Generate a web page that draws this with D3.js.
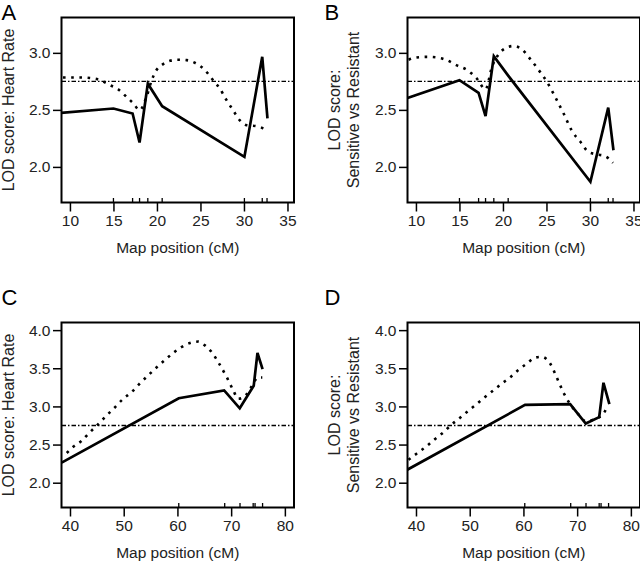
<!DOCTYPE html>
<html><head><meta charset="utf-8">
<script src="https://cdn.jsdelivr.net/npm/d3@7"></script>
<style>
body{margin:0;background:#fff}
svg{display:block;font-family:"Liberation Sans",Arial,Helvetica,sans-serif}
</style></head>
<body><svg id="c" width="640" height="562"></svg>
<script>
// ---- data ----
const panelLetters = ["A", "B", "C", "D"];
const yTitleHR = ["LOD score: Heart Rate"];
const yTitleSR = ["LOD score:", "Sensitive vs Resistant"];
const xTitle = "Map position (cM)";
const xTicksAB = [10, 15, 20, 25, 30, 35];
const xTicksCD = [40, 50, 60, 70, 80];
const yTicksAB = [2.0, 2.5, 3.0];
const yTicksCD = [2.0, 2.5, 3.0, 3.5, 4.0];
const threshold = 2.75;
const markersAB = [15, 17.2, 18.0, 18.95, 20.6, 30.05, 32.1, 32.65];
const markersCD = [60.25, 68.8, 71.65, 74.1, 74.45, 75.85];

const solidAx = [8.97, 15, 17.2, 18.0, 18.95, 20.6, 30.05, 32.1, 32.7];
const solidAy = [2.474, 2.512, 2.468, 2.214, 2.73, 2.532, 2.088, 2.965, 2.425];
const dotAx = [9.2, 11.15, 13.1, 14.6, 15.55, 16.5, 17.3, 18.0, 18.8, 19.4, 19.95, 20.5, 21.5, 22.4, 23.4, 24.5, 25.5, 26.45, 27.2, 28.0, 28.75, 29.5, 30.3, 31.4, 32.2, 32.65];
const dotAy = [2.784, 2.784, 2.77, 2.717, 2.68, 2.614, 2.556, 2.497, 2.614, 2.76, 2.85, 2.89, 2.93, 2.94, 2.936, 2.907, 2.85, 2.76, 2.69, 2.585, 2.497, 2.41, 2.366, 2.357, 2.337, 2.307];

const solidBx = [9.03, 15, 17.2, 18.0, 18.95, 20.6, 30.05, 32.1, 32.7];
const solidBy = [2.605, 2.76, 2.65, 2.445, 2.97, 2.80, 1.87, 2.52, 2.146];
const dotBx = [9.15, 10.1, 11.26, 12.4, 13.56, 14.7, 15.86, 17.0, 18.0, 18.74, 19.3, 20.26, 21.2, 22.2, 23.1, 24.1, 25.06, 26.0, 26.97, 27.9, 28.9, 29.84, 30.8, 31.76, 32.64];
const dotBy = [2.94, 2.96, 2.965, 2.96, 2.936, 2.89, 2.85, 2.775, 2.68, 2.877, 2.965, 3.04, 3.06, 3.03, 2.95, 2.85, 2.745, 2.614, 2.468, 2.32, 2.22, 2.13, 2.11, 2.094, 2.035];

const solidCx = [38.45, 60.25, 68.7, 71.6, 74.2, 74.9, 75.85];
const solidCy = [2.263, 3.107, 3.21, 2.975, 3.27, 3.70, 3.49];
const dotCx = [39.4, 40.6, 42.2, 43.4, 45.0, 46.8, 48.4, 49.9, 51.5, 53.0, 54.6, 56.1, 57.7, 59.2, 60.8, 62.3, 63.9, 65.1, 66.4, 67.6, 69.2, 70.4, 71.3, 72.9, 73.8, 75.0, 75.8];
const dotCy = [2.39, 2.47, 2.55, 2.64, 2.75, 2.88, 2.99, 3.10, 3.19, 3.30, 3.41, 3.51, 3.61, 3.70, 3.78, 3.83, 3.85, 3.80, 3.71, 3.58, 3.38, 3.21, 3.10, 3.16, 3.26, 3.38, 3.38];

const solidDx = [38.38, 60.3, 68.7, 71.6, 74.1, 74.9, 76.0];
const solidDy = [2.17, 3.02, 3.03, 2.775, 2.86, 3.31, 3.03];
const dotDx = [38.6, 40.1, 42.0, 43.5, 45.1, 46.6, 48.2, 49.7, 51.3, 52.8, 54.4, 56.0, 57.5, 59.1, 60.6, 62.2, 63.4, 65.0, 66.2, 67.4, 68.7, 70.2, 71.5, 72.7, 73.9, 75.2, 75.6];
const dotDy = [2.30, 2.38, 2.48, 2.57, 2.66, 2.76, 2.85, 2.94, 3.03, 3.12, 3.21, 3.30, 3.38, 3.48, 3.56, 3.64, 3.65, 3.56, 3.38, 3.19, 3.03, 2.90, 2.81, 2.82, 2.85, 2.94, 3.0];

// ---- layout ----
const zip = (xs, ys) => xs.map((x, i) => [x, ys[i]]);
const panels = [
  {letter: panelLetters[0], left: 61.5, top: 17.5, xDom: [9.03, 35.75], yDom: [1.688, 3.31], xTicks: xTicksAB, yTicks: yTicksAB, markers: markersAB, solid: zip(solidAx, solidAy), dotted: zip(dotAx, dotAy), title: yTitleHR},
  {letter: panelLetters[1], left: 407.5, top: 17.5, xDom: [9.03, 35.75], yDom: [1.688, 3.31], xTicks: xTicksAB, yTicks: yTicksAB, markers: markersAB, solid: zip(solidBx, solidBy), dotted: zip(dotBx, dotBy), title: yTitleSR},
  {letter: panelLetters[2], left: 61.5, top: 322.5, xDom: [38.42, 81.7], yDom: [1.675, 4.10], xTicks: xTicksCD, yTicks: yTicksCD, markers: markersCD, solid: zip(solidCx, solidCy), dotted: zip(dotCx, dotCy), title: yTitleHR},
  {letter: panelLetters[3], left: 407.5, top: 322.5, xDom: [38.42, 81.7], yDom: [1.675, 4.10], xTicks: xTicksCD, yTicks: yTicksCD, markers: markersCD, solid: zip(solidDx, solidDy), dotted: zip(dotDx, dotDy), title: yTitleSR}
];
const W = 232.5, H = 185;
const svg = d3.select("#c");

panels.forEach((p, i) => {
  const g = svg.append("g").attr("transform", `translate(${p.left},${p.top})`);
  const x = d3.scaleLinear().domain(p.xDom).range([0, W]);
  const y = d3.scaleLinear().domain(p.yDom).range([H, 0]);
  const clipId = "clip" + i;
  g.append("clipPath").attr("id", clipId).append("rect").attr("width", W).attr("height", H);
  const plot = g.append("g").attr("clip-path", `url(#${clipId})`);

  // threshold
  plot.append("line").attr("x1", 0).attr("x2", W).attr("y1", y(threshold)).attr("y2", y(threshold))
    .attr("stroke", "#000").attr("stroke-width", 1.3).attr("stroke-dasharray", "4.5,2,1.5,2");
  // dotted curve
  plot.append("path").datum(p.dotted)
    .attr("d", d3.line().x(d => x(d[0])).y(d => y(d[1])).curve(d3.curveMonotoneX))
    .attr("fill", "none").attr("stroke", "#000").attr("stroke-width", 2.6).attr("stroke-dasharray", "2.6,5.6");
  // solid line
  plot.append("path").datum(p.solid)
    .attr("d", d3.line().x(d => x(d[0])).y(d => y(d[1])))
    .attr("fill", "none").attr("stroke", "#000").attr("stroke-width", 2.7).attr("stroke-linejoin", "miter");
  // rug markers
  g.selectAll(".rug").data(p.markers).enter().append("line")
    .attr("x1", d => x(d)).attr("x2", d => x(d)).attr("y1", H).attr("y2", H - 4.5)
    .attr("stroke", "#000").attr("stroke-width", 1.3);

  // axes
  const xa = g.append("g").attr("transform", `translate(0,${H})`)
    .call(d3.axisBottom(x).tickValues(p.xTicks).tickFormat(d3.format("d")).tickSize(9).tickPadding(3.5));
  const ya = g.append("g")
    .call(d3.axisLeft(y).tickValues(p.yTicks).tickFormat(d3.format(".1f")).tickSize(8.5).tickPadding(2.5));
  [xa, ya].forEach(a => {
    a.select(".domain").remove();
    a.selectAll(".tick line").attr("stroke-width", 1.5);
    a.selectAll(".tick text").attr("font-size", 15.5).attr("fill", "#222")
      .style("font-family", '"Liberation Sans",Arial,Helvetica,sans-serif');
  });

  // frame
  g.append("rect").attr("width", W).attr("height", H).attr("fill", "none")
    .attr("stroke", "#000").attr("stroke-width", 2);

  // x title
  g.append("text").attr("x", W / 2).attr("y", H + 50).attr("text-anchor", "middle")
    .attr("font-size", 15.5).attr("fill", "#222").text(xTitle);

  // y title
  const right = p.left > 300;
  const cy = p.top + H / 2;
  const n = p.title.length;
  p.title.forEach((t, k) => {
    const bx = n === 1 ? (right ? 334 : 14) : (right ? 339.5 + k * 19 : 19.5 + k * 19);
    svg.append("text").attr("transform", `translate(${bx},${cy}) rotate(-90)`)
      .attr("text-anchor", "middle").attr("font-size", 16).attr("fill", "#222").text(t);
  });

  // panel letter
  svg.append("text").attr("x", right ? 324.5 : 1.5).attr("y", p.top < 100 ? 19.5 : 305)
    .attr("font-size", 22).attr("fill", "#000").text(p.letter);
});
</script></body></html>
